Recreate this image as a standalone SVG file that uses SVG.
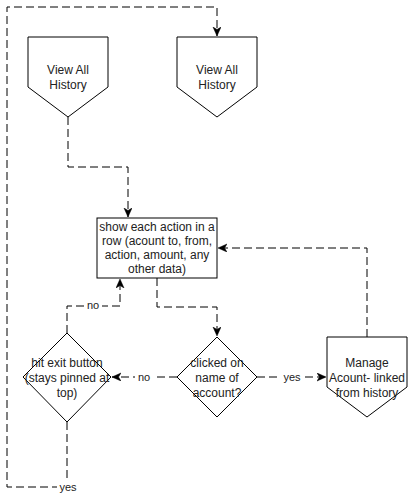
<svg xmlns="http://www.w3.org/2000/svg" width="408" height="496" viewBox="0 0 408 496">
<style>
.shape{fill:#fff;stroke:#000;stroke-width:1}
.t{font-family:"Liberation Sans",Arial,sans-serif;font-size:12px;fill:#222;text-anchor:middle}
.lbl{font-family:"Liberation Sans",Arial,sans-serif;font-size:11px;fill:#222;text-anchor:middle}
.edge{fill:none;stroke:#000;stroke-width:1;stroke-dasharray:8 4}
</style>
<defs>
<marker id="arr" markerUnits="userSpaceOnUse" markerWidth="10" markerHeight="10" refX="9" refY="4" orient="auto">
<path d="M0,0 L9,4 L0,8 L2.5,4 Z" fill="#000" stroke="#000" stroke-width="0.5"/>
</marker>
</defs>
<rect width="408" height="496" fill="#fff"/>
<g id="connectors">
<path class="edge" d="M68,117 V167 H128 V217" marker-end="url(#arr)"/>
<path class="edge" d="M157,278 V307 H217 V336" marker-end="url(#arr)"/>
<path class="edge" d="M177,377 H112" marker-end="url(#arr)"/>
<path class="edge" d="M257,377 H326" marker-end="url(#arr)"/>
<path class="edge" d="M367,337 V248 H218" marker-end="url(#arr)"/>
<path class="edge" d="M67,333 V306 H120 V279" marker-end="url(#arr)"/>
<path class="edge" d="M67,422 V487 H7 V7 H217 V36" marker-end="url(#arr)"/>
<g id="labels">
<rect x="135" y="371" width="18" height="13" fill="#fff"/>
<text class="lbl" x="144" y="381">no</text>
<rect x="281" y="371" width="22" height="13" fill="#fff"/>
<text class="lbl" x="292" y="381">yes</text>
<rect x="84" y="299" width="18" height="13" fill="#fff"/>
<text class="lbl" x="93" y="309">no</text>
<rect x="57" y="481" width="22" height="13" fill="#fff"/>
<text class="lbl" x="68" y="491">yes</text>
</g>
</g>
<g id="view-all-history-1">
<path class="shape" d="M28,37 H108 V87 L68,117 L28,87 Z"/>
<text class="t" x="68" y="74">View All</text>
<text class="t" x="68" y="89">History</text>
</g>
<g id="view-all-history-2">
<path class="shape" d="M177,37 H257 V87 L217,117 L177,87 Z"/>
<text class="t" x="217" y="74">View All</text>
<text class="t" x="217" y="89">History</text>
</g>
<g id="show-each-action">
<rect class="shape" x="97" y="218" width="120" height="60"/>
<text class="t" x="157" y="231">show each action in a</text>
<text class="t" x="157" y="245">row (acount to, from,</text>
<text class="t" x="157" y="259">action, amount, any</text>
<text class="t" x="157" y="273">other data)</text>
</g>
<g id="hit-exit">
<path class="shape" d="M67,333 L111,377 L67,422 L23,377 Z"/>
<text class="t" x="67" y="367">hit exit button</text>
<text class="t" x="67" y="382">(stays pinned at</text>
<text class="t" x="67" y="397">top)</text>
</g>
<g id="clicked-on-name">
<path class="shape" d="M217,337 L257,377 L217,417 L177,377 Z"/>
<text class="t" x="217" y="367">clicked on</text>
<text class="t" x="217" y="382">name of</text>
<text class="t" x="217" y="397">account?</text>
</g>
<g id="manage-account">
<path class="shape" d="M327,337 H407 V387 L367,417 L327,387 Z"/>
<text class="t" x="367" y="367">Manage</text>
<text class="t" x="367" y="382">Acount- linked</text>
<text class="t" x="367" y="397">from history</text>
</g>
</svg>
